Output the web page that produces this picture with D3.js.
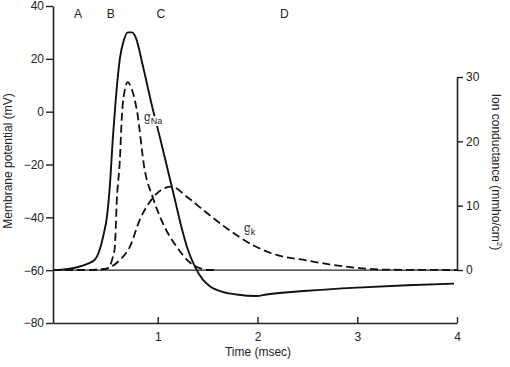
<!DOCTYPE html>
<html><head><meta charset="utf-8">
<script src="https://cdn.jsdelivr.net/npm/d3@7"></script>
<style>body{margin:0;background:#fff}svg{display:block}text{font-family:"Liberation Sans",Arial,sans-serif;fill:#222}</style>
</head><body><svg id="c" width="510" height="367"></svg>
<script>
const vTicks=[40,20,0,-20,-40,-60,-80];
const gTicks=[0,10,20,30];
const tTicks=[1,2,3,4];
const phaseLabels=["A","B","C","D"];
const phaseTimes=[0.2,0.53,1.03,2.27];
const membraneT=[-0.05,0.1,0.2,0.3,0.37,0.42,0.46,0.49,0.52,0.55,0.58,0.62,0.66,0.7,0.74,0.78,0.85,0.95,1.03,1.1,1.17,1.24,1.3,1.37,1.45,1.52,1.65,1.79,1.99,2.09,2.5,3,3.5,3.97];
const membraneV=[-60,-59.5,-58.8,-57.5,-56,-52,-46,-40,-28,-10,5,20,27,30,30,28,17.5,1,-11,-22,-33,-44,-52,-58.5,-63.5,-66,-68.2,-69.2,-69.8,-69.2,-67.8,-66.6,-65.7,-65.1];
const gNaT=[-0.05,0.3,0.49,0.55,0.57,0.59,0.62,0.64,0.67,0.7,0.73,0.79,0.87,0.95,1.05,1.19,1.32,1.42,1.5,1.6];
const gNaG=[0,0,0.2,2,3.6,10.9,17,23.8,28,29.2,28.5,24.9,15.5,11.3,7.3,3.6,1.2,0.3,0,0];
const gKT=[-0.05,0.3,0.45,0.52,0.62,0.72,0.82,0.95,1.05,1.14,1.29,1.49,1.69,1.95,2.2,2.49,2.75,3.02,3.3,4.0];
const gKG=[0,0,0.1,0.4,1.55,3.6,7.8,11.2,12.6,12.95,11.4,8.9,6.5,3.9,2.3,1.5,0.8,0.3,0.05,0];

const svg=d3.select("#c");
const x=d3.scaleLinear().domain([-0.05,4]).range([53,457]);
const yV=d3.scaleLinear().domain([-80,40]).range([323,6]);
const yG=d3.scaleLinear().domain([0,30]).range([270,77]);

// axes
const left=svg.append("g").attr("transform","translate(53,0)").call(d3.axisLeft(yV).tickValues(vTicks).tickSize(7).tickSizeOuter(0).tickFormat(d=>d<0?"\u2212"+Math.abs(d):d));
const right=svg.append("g").attr("transform","translate(457,0)").call(d3.axisRight(yG).tickValues(gTicks).tickSize(6).tickSizeOuter(0).tickFormat(d3.format("d")));
const bottom=svg.append("g").attr("transform","translate(0,323)").call(d3.axisBottom(x).tickValues(tTicks).tickSize(-6).tickSizeOuter(0).tickFormat(d3.format("d")));
bottom.selectAll(".tick text").attr("y",9);
[left,right,bottom].forEach(g=>{
  g.select(".domain").attr("stroke","#222").attr("stroke-width",1.6);
  g.selectAll(".tick line").attr("stroke","#222").attr("stroke-width",1.4);
  g.selectAll(".tick text").attr("font-size",12).attr("fill","#222").attr("font-family","Liberation Sans, Arial, sans-serif");
});
left.selectAll(".tick text").attr("x",-9);
right.selectAll(".tick text").attr("x",9);

// baseline at -60 mV
svg.append("line").attr("x1",x(-0.05)).attr("x2",x(4)).attr("y1",yV(-60)).attr("y2",yV(-60)).attr("stroke","#222").attr("stroke-width",1.1);

const lineV=d3.line().x((d,i)=>x(membraneT[i])).y(d=>yV(d)).curve(d3.curveMonotoneX);
svg.append("path").attr("d",lineV(membraneV)).attr("fill","none").attr("stroke","#111").attr("stroke-width",1.9);
const lineNa=d3.line().x((d,i)=>x(gNaT[i])).y(d=>yG(d)).curve(d3.curveMonotoneX);
svg.append("path").attr("d",lineNa(gNaG)).attr("fill","none").attr("stroke","#111").attr("stroke-width",1.8).attr("stroke-dasharray","8,4");
const lineK=d3.line().x((d,i)=>x(gKT[i])).y(d=>yG(d)).curve(d3.curveMonotoneX);
svg.append("path").attr("d",lineK(gKG)).attr("fill","none").attr("stroke","#111").attr("stroke-width",1.8).attr("stroke-dasharray","8,4");

// phase labels
svg.selectAll(".ph").data(phaseLabels).enter().append("text").attr("x",(d,i)=>x(phaseTimes[i])).attr("y",18).attr("text-anchor","middle").attr("font-size",12).text(d=>d);

// conductance labels (white halo masks the curves beneath, as in the original)
function halo(t){return t.attr("stroke","#fff").attr("stroke-width",4).attr("paint-order","stroke").attr("stroke-linejoin","round");}
const tNa=halo(svg.append("text").attr("x",144).attr("y",121).attr("font-size",12));
tNa.append("tspan").text("g");
tNa.append("tspan").attr("dy",3).attr("font-size",9).text("Na");
const tK=halo(svg.append("text").attr("x",244).attr("y",232).attr("font-size",12));
tK.append("tspan").text("g");
tK.append("tspan").attr("dy",3).attr("font-size",9).text("k");

// axis titles
svg.append("text").attr("transform","translate(12,161) rotate(-90)").attr("text-anchor","middle").attr("font-size",12).text("Membrane potential (mV)");
const rt=svg.append("text").attr("transform","translate(492,172) rotate(90)").attr("text-anchor","middle").attr("font-size",12);
rt.append("tspan").text("Ion conductance (mmho/cm");
rt.append("tspan").attr("dy",-5).attr("font-size",8).text("2");
rt.append("tspan").attr("dy",5).text(")");
svg.append("text").attr("x",258).attr("y",356).attr("text-anchor","middle").attr("font-size",12).text("Time (msec)");
</script></body></html>
